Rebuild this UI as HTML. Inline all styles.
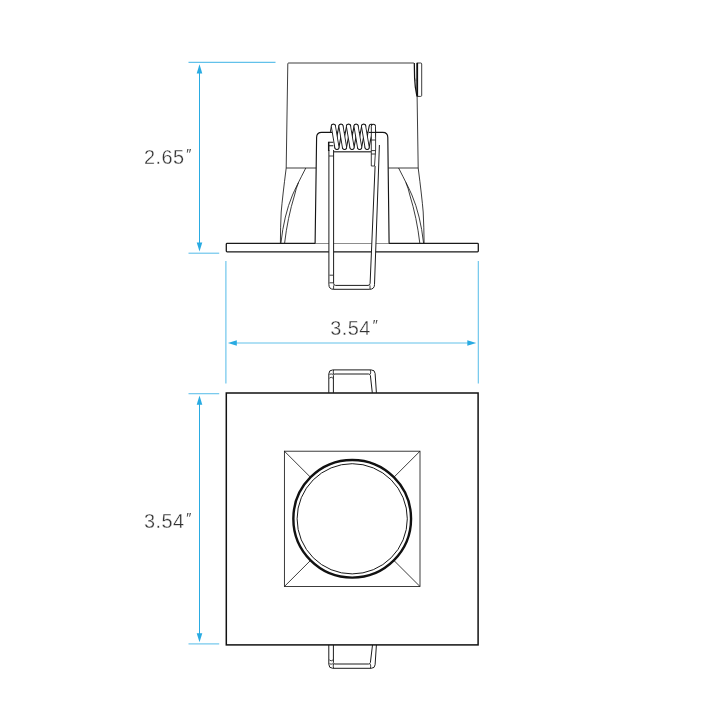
<!DOCTYPE html>
<html lang="en">
<head>
<meta charset="utf-8">
<title>Dimensions</title>
<style>
  html, body { margin: 0; padding: 0; background: #ffffff; }
  body { width: 720px; height: 720px; overflow: hidden; }
  svg { display: block; }
  .k { stroke: #1a1a1a; fill: none; stroke-width: 0.85; }
  .w { stroke: #1c1c1c; fill: none; stroke-width: 1; }
  .kw { stroke: #1a1a1a; fill: #ffffff; stroke-width: 0.85; }
  .kb { stroke: #1a1a1a; fill: #ffffff; stroke-width: 1.3; stroke-linejoin: round; }
  .b { stroke: #29abe2; fill: none; stroke-width: 1; }
  .bl { stroke: #62c1ea; fill: none; stroke-width: 1.1; }
  .bf { fill: #29abe2; stroke: none; }
  .t { font-family: "Liberation Sans", sans-serif; font-size: 19.9px; fill: #333333; letter-spacing: 0.45px; stroke: #ffffff; stroke-width: 0.32px; }
  .q { font-size: 14.5px; font-style: italic; stroke: none; fill: #4a4a4a; }
</style>
</head>
<body>
<svg width="720" height="720" viewBox="0 0 720 720">
  <rect x="0" y="0" width="720" height="720" fill="#ffffff"/>

  <!-- ================= dimension lines ================= -->
  <g id="dims">
    <!-- 2.65 vertical -->
    <line class="bl" x1="188.5" y1="62.4" x2="275.5" y2="62.4"/>
    <line class="bl" x1="188.5" y1="253.2" x2="219.2" y2="253.2"/>
    <line class="b" x1="199.5" y1="70" x2="199.5" y2="246"/>
    <polygon class="bf" points="199.5,64.3 202.3,73.4 196.7,73.4"/>
    <polygon class="bf" points="199.5,251.4 202.3,242.4 196.7,242.4"/>
    <!-- 3.54 horizontal -->
    <line class="bl" x1="225.9" y1="261" x2="225.9" y2="383.4"/>
    <line class="bl" x1="478.3" y1="261" x2="478.3" y2="383.4"/>
    <line class="bl" x1="234" y1="343" x2="470" y2="343"/>
    <polygon class="bf" points="227.9,343 236.8,340.3 236.8,345.7"/>
    <polygon class="bf" points="476.3,343 467.3,340.3 467.3,345.7"/>
    <!-- 3.54 vertical -->
    <line class="bl" x1="188.5" y1="393.7" x2="219.2" y2="393.7"/>
    <line class="bl" x1="188.5" y1="643.9" x2="219.2" y2="643.9"/>
    <line class="b" x1="199.5" y1="402" x2="199.5" y2="636"/>
    <polygon class="bf" points="199.5,395.6 202.3,404.7 196.7,404.7"/>
    <polygon class="bf" points="199.5,642.2 202.3,633.2 196.7,633.2"/>
  </g>

  <!-- ================= labels ================= -->
  <g id="labels" style="filter: grayscale(1);">
  <text class="t" x="144" y="164.1">2.65<tspan class="q" dx="1.1" dy="-4.9">″</tspan></text>
  <text class="t" x="330.3" y="334.7">3.54<tspan class="q" dx="1.1" dy="-4.9">″</tspan></text>
  <text class="t" x="144" y="527.5">3.54<tspan class="q" dx="1.1" dy="-4.9">″</tspan></text>

  </g>

  <!-- ================= side view ================= -->
  <g id="side">
    <!-- housing can -->
    <path class="k" d="M286.2,168 L287.8,63.8 Q287.8,63 288.6,63 L413.9,63"/>
    <path class="k" d="M417.1,96 L418.2,168"/>
    <line class="k" x1="286.2" y1="168" x2="316.8" y2="168"/>
    <line class="k" x1="388.2" y1="168" x2="418.2" y2="168"/>
    <!-- tab on top right -->
    <path class="k" d="M417.3,63 L420.7,63 Q421.7,63 421.7,64 L421.7,95.4 Q421.7,96.4 420.7,96.4 L417.3,96.4"/>
    <line x1="417.2" y1="62.8" x2="417.2" y2="96.5" stroke="#111111" stroke-width="1.8"/>
    <path d="M414.3,63 L414.6,78 Q415,88 416.8,95.6" fill="none" stroke="#111111" stroke-width="1.25"/>
    <path d="M415.4,79.2 L416.4,79.2 M415.5,80.6 L416.4,80.6" fill="none" stroke="#1a1a1a" stroke-width="0.5"/>
    <!-- lower trim cone, left -->
    <path class="k" d="M286.2,168 Q282.6,196 281.2,212 Q280.4,228 280.4,243.2"/>
    <path class="k" d="M305.8,168 Q296,187 292.5,195 Q284,215 280.9,243.2"/>
    <path class="k" d="M298.5,182.5 Q295.8,189 294.6,195 Q287.5,218 284.6,243.2"/>
    <!-- lower trim cone, right -->
    <path class="k" d="M418.2,168 Q421.8,196 423.2,212 Q424,228 424.1,243.2"/>
    <path class="k" d="M398.6,168 Q408.4,187 411.9,195 Q420.4,215 423.6,243.2"/>
    <path class="k" d="M405.9,182.5 Q408.6,189 409.8,195 Q416.9,218 419.8,243.2"/>
    <!-- flange -->
    <rect class="kb" x="226.3" y="243.4" width="252" height="8.4" rx="0.8" ry="0.8"/>
    <!-- tail of the first coil, tucked behind the bracket -->
    <g stroke-linecap="round" fill="none">
      <path d="M333.4,126.3 L331.6,137" stroke="#1a1a1a" stroke-width="5.1"/>
      <path d="M333.4,126.3 L331.6,137" stroke="#ffffff" stroke-width="3.3"/>
    </g>
    <!-- spring bracket -->
    <path d="M315.1,243.4 L316.6,137.5 Q316.6,132.4 321.7,132.4 L382.7,132.4 Q387.8,132.4 387.8,137.5 L389.1,243.4" fill="#ffffff" stroke="#151515" stroke-width="1.15"/>
  </g>

  <!-- ================= spring + wire clip ================= -->
  <g id="spring">
    <!-- horizontal pin under the coil -->
    <line x1="333.5" y1="151.8" x2="371.5" y2="151.8" stroke="#555555" stroke-width="1.4"/>
    <!-- wire clip legs -->
    <path d="M328.9,150 L328.9,284.6 Q328.9,289.3 333.6,289.3 L369.6,289.3 Q374.4,289.3 374.5,284.6 L379.4,145 L375.1,166 L370.1,283.4 Q370,285.4 368,285.4 L335.6,285.4 Q333.6,285.4 333.6,283.4 L333.6,150 Z" fill="#ffffff" stroke="none"/>
    <path class="w" d="M328.9,150 L328.9,284.6 Q328.9,289.3 333.6,289.3 L369.6,289.3 Q374.4,289.3 374.5,284.6 L379.4,145"/>
    <path class="w" d="M375.1,166 L370.1,283.4 Q370,285.4 368,285.4 L335.6,285.4 Q333.6,285.4 333.6,283.4 L333.6,150"/>
    <path class="k" d="M329.5,275.2 L333,275.2 M329.5,282.8 L333,282.8 M333.6,285.4 L333.6,289.3 M370,285.4 L370,289.3"/>
    <!-- left leg head -->
    <path d="M328.5,142.3 L333.4,142.3 M328.5,145.8 L333.4,145.8" stroke="#151515" stroke-width="1.1" fill="none"/>
    <path d="M329,156 L333.5,156" stroke="#1a1a1a" stroke-width="0.8" fill="none"/>
    <line x1="328.7" y1="141.8" x2="328.7" y2="151" stroke="#151515" stroke-width="1.5"/>
    <!-- right straight leg from last coil -->
    <path class="kw" d="M371.3,130 L371.3,166 L374.5,166 L375.6,150 L375.6,130 Z"/>
    <path class="k" d="M371.3,140 L375.6,140 M371.3,150.6 L375.6,150.6 M371.3,154 L375.5,154"/>
    <!-- coils: back segments -->
    <g stroke-linecap="round" fill="none">
      <g stroke="#1a1a1a" stroke-width="5.1">
        <path d="M336.9,147.3 L340.9,126.3"/>
        <path d="M344.5,147.3 L348.6,126.3"/>
        <path d="M352.0,147.3 L356.1,126.3"/>
        <path d="M359.6,147.3 L363.7,126.3"/>
        <path d="M367.1,147.3 L371.2,126.3"/>
      </g>
      <g stroke="#ffffff" stroke-width="2.9">
        <path d="M336.9,147.3 L340.9,126.3"/>
        <path d="M344.5,147.3 L348.6,126.3"/>
        <path d="M352.0,147.3 L356.1,126.3"/>
        <path d="M359.6,147.3 L363.7,126.3"/>
        <path d="M367.1,147.3 L371.2,126.3"/>
      </g>
      <!-- front segments -->
      <g stroke="#1a1a1a" stroke-width="5.1">
        <path d="M333.4,126.3 L336.9,147.3"/>
        <path d="M341.0,126.3 L344.5,147.3"/>
        <path d="M348.5,126.3 L352.0,147.3"/>
        <path d="M356.1,126.3 L359.6,147.3"/>
        <path d="M363.6,126.3 L367.1,147.3"/>
        <path d="M373.4,126.3 L373.4,135"/>
      </g>
      <g stroke="#ffffff" stroke-width="3.3">
        <path d="M333.4,126.3 L336.9,147.3"/>
        <path d="M341.0,126.3 L344.5,147.3"/>
        <path d="M348.5,126.3 L352.0,147.3"/>
        <path d="M356.1,126.3 L359.6,147.3"/>
        <path d="M363.6,126.3 L367.1,147.3"/>
        <path d="M373.4,126.3 L373.4,137"/>
      </g>
    </g>
    <!-- bracket top edge runs across the last coil -->
    <line x1="368.8" y1="132.4" x2="376.2" y2="132.4" stroke="#151515" stroke-width="1.1"/>
  </g>

  <!-- ================= front view ================= -->
  <g id="front">
    <!-- top clip -->
    <path d="M328.8,392.8 L328.8,373.9 Q328.8,369.9 332.8,369.9 L371.1,369.9 Q374.9,369.9 375.1,373.4 L376.4,392.8 Z" fill="#ffffff" stroke="none"/>
    <path class="w" d="M328.8,392.8 L328.8,373.9 Q328.8,369.9 332.8,369.9 L371.1,369.9 Q374.9,369.9 375.1,373.4 L376.4,392.8"/>
    <path class="w" d="M333.4,392.8 L333.4,375.5 Q333.4,374 334.9,374 L368.6,374 Q370.2,374 370.4,375.5 L372.3,392.8"/>
    <path class="k" d="M329.4,374.3 Q331.2,373.6 333,374.3 M329.4,378.2 Q331.2,376.2 333,378.2 M333.6,370 Q332.8,372 333.6,374 M370.2,370 Q371.2,372 370.4,374"/>
    <!-- bottom clip -->
    <path d="M328.8,645 L328.8,664.3 Q328.8,668.3 332.8,668.3 L371.1,668.3 Q374.9,668.3 375.1,664.8 L376.4,645 Z" fill="#ffffff" stroke="none"/>
    <path class="w" d="M328.8,645 L328.8,664.3 Q328.8,668.3 332.8,668.3 L371.1,668.3 Q374.9,668.3 375.1,664.8 L376.4,645"/>
    <path class="w" d="M333.4,645 L333.4,662.5 Q333.4,664 334.9,664 L368.6,664 Q370.2,664 370.4,662.5 L372.5,645"/>
    <path class="k" d="M329.4,663.8 Q331.2,664.5 333,663.8 M329.4,659.9 Q331.2,661.9 333,659.9 M333.6,664 Q332.8,666 333.6,668.2 M370.2,664 Q371.2,666 370.4,668.2"/>
    <!-- trim square -->
    <rect x="226.3" y="393" width="251.8" height="251.9" fill="#ffffff" stroke="#111111" stroke-width="1.5" stroke-linejoin="miter"/>
    <!-- inner bevel square -->
    <rect class="k" x="284.4" y="451.2" width="135.6" height="135.3" stroke-width="1.1"/>
    <path class="k" d="M284.4,451.2 L420,586.5 M420,451.2 L284.4,586.5" stroke-width="1.05"/>
    <!-- lens -->
    <circle cx="352.2" cy="518.8" r="58.85" fill="#ffffff" stroke="#111111" stroke-width="2.4"/>
    <circle cx="352.2" cy="518.8" r="55.1" fill="none" stroke="#1a1a1a" stroke-width="1"/>
  </g>
</svg>
</body>
</html>
